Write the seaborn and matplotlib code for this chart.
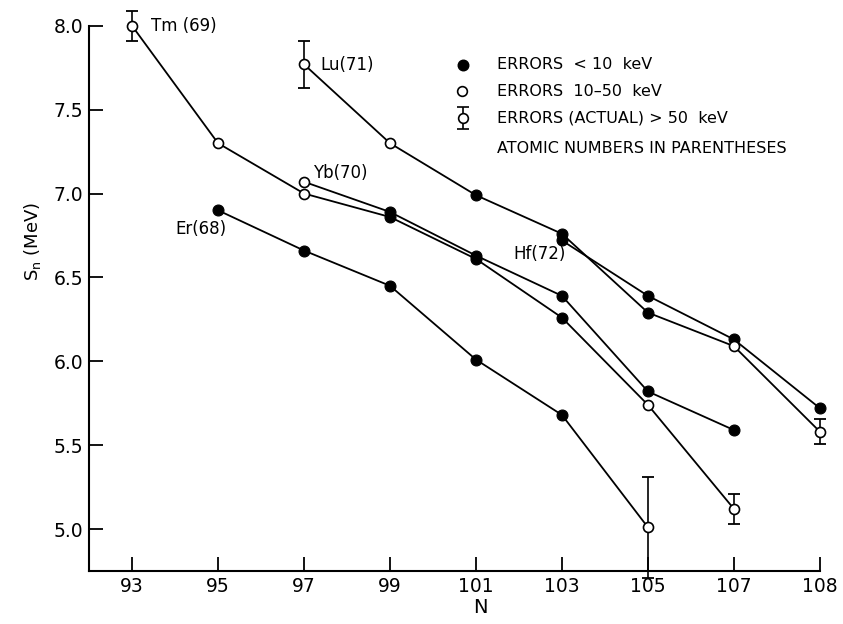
import matplotlib
matplotlib.use("Agg")
import matplotlib.pyplot as plt
import numpy as np
import pandas as pd
import seaborn as sns

# Neutron separation energies S_n (MeV) for odd-N isotopes of the rare earths
er_N = [95, 97, 99, 101, 103, 105]
er_S = [6.90, 6.66, 6.45, 6.01, 5.68, 5.01]
er_err = [0, 0, 0, 0, 0, 0.30]
er_open = [0, 0, 0, 0, 0, 1]

tm_N = [93, 95, 97, 99, 101, 103, 105, 107]
tm_S = [8.00, 7.30, 7.00, 6.86, 6.61, 6.26, 5.74, 5.12]
tm_err = [0.09, 0, 0, 0, 0, 0, 0, 0.09]
tm_open = [1, 1, 1, 0, 0, 0, 1, 1]

yb_N = [97, 99, 101, 103, 105, 107]
yb_S = [7.07, 6.89, 6.63, 6.39, 5.82, 5.59]
yb_err = [0, 0, 0, 0, 0, 0]
yb_open = [1, 0, 0, 0, 0, 0]

lu_N = [97, 99, 101, 103, 105, 107, 109]
lu_S = [7.77, 7.30, 6.99, 6.76, 6.29, 6.09, 5.58]
lu_err = [0.14, 0, 0, 0, 0, 0, 0.075]
lu_open = [1, 1, 0, 0, 0, 1, 1]

hf_N = [103, 105, 107, 109]
hf_S = [6.72, 6.39, 6.13, 5.72]
hf_err = [0, 0, 0, 0]
hf_open = [0, 0, 0, 0]

elements = ["Er(68)", "Tm (69)", "Yb(70)", "Lu(71)", "Hf(72)"]
x_ticks = [93, 95, 97, 99, 101, 103, 105, 107, 109]
x_tick_labels = ["93", "95", "97", "99", "101", "103", "105", "107", "108"]
y_ticks = [5.0, 5.5, 6.0, 6.5, 7.0, 7.5, 8.0]

legend_texts = ["ERRORS  < 10  keV", "ERRORS  10\u201350  keV",
                "ERRORS (ACTUAL) > 50  keV", "ATOMIC NUMBERS IN PARENTHESES"]

series = [
    (elements[0], er_N, er_S, er_err, er_open),
    (elements[1], tm_N, tm_S, tm_err, tm_open),
    (elements[2], yb_N, yb_S, yb_err, yb_open),
    (elements[3], lu_N, lu_S, lu_err, lu_open),
    (elements[4], hf_N, hf_S, hf_err, hf_open),
]
frames = []
for name, n, s, e, o in series:
    frames.append(pd.DataFrame({"element": name, "N": n, "S": s,
                                "err": e, "open": np.array(o, bool)}))
df = pd.concat(frames, ignore_index=True)

sns.set_style("ticks")
plt.rcParams["font.family"] = ["DejaVu Sans"]

fig = plt.figure(figsize=(8.43, 6.24), dpi=100)
ax = fig.add_axes([0.1056, 0.085, 0.867, 0.906])

sns.lineplot(data=df, x="N", y="S", units="element", estimator=None,
             sort=False, color="black", linewidth=1.3, legend=False,
             ax=ax, zorder=1)

bars = df[df["err"] > 0]
ax.errorbar(bars["N"], bars["S"], yerr=bars["err"], fmt="none",
            ecolor="black", elinewidth=1.2, capsize=4, capthick=1.3, zorder=2)

sns.scatterplot(data=df[~df["open"]], x="N", y="S", color="black",
                edgecolor="black", s=62, linewidth=0.8, ax=ax, zorder=3,
                legend=False)
sns.scatterplot(data=df[df["open"]], x="N", y="S", color="white",
                edgecolor="black", s=52, linewidth=1.2, ax=ax, zorder=3,
                legend=False)

# Element labels
lab_kw = dict(fontsize=12, color="black", va="center")
ax.text(93.45, 8.00, elements[1], ha="left", **lab_kw)
ax.text(97.37, 7.765, elements[3], ha="left", **lab_kw)
ax.text(97.21, 7.124, elements[2], ha="left", **lab_kw)
ax.text(94.6, 6.79, elements[0], ha="center", **lab_kw)
ax.text(101.87, 6.64, elements[4], ha="left", **lab_kw)

# Key for the marker styles
ax.plot([100.70], [7.767], "o", ms=7.6, mfc="black", mec="black", zorder=3)
ax.plot([100.68], [7.61], "o", ms=7.0, mfc="white", mec="black", mew=1.2,
        zorder=3)
ax.errorbar([100.70], [7.45], yerr=[0.065], fmt="o", ms=7.0, mfc="white",
            mec="black", mew=1.2, ecolor="black", elinewidth=1.2, capsize=4,
            capthick=1.3, zorder=3)
key_kw = dict(fontsize=11.5, color="black", ha="left", va="center")
for txt, yv in zip(legend_texts, [7.767, 7.61, 7.45, 7.267]):
    ax.text(101.5, yv, txt, **key_kw)

# Let markers and bars at the axis ends draw in full
for artist in ax.collections + ax.lines:
    artist.set_clip_on(False)

ax.set_xlim(92, 109)
ax.set_ylim(4.75, 8.12)
ax.set_xticks(x_ticks)
ax.set_xticklabels(x_tick_labels)
ax.set_yticks(y_ticks)
ax.set_yticklabels([f"{v:.1f}" for v in y_ticks])
ax.tick_params(direction="in", length=10, width=1.3, labelsize=13.5,
               colors="black", pad=4)

for side in ("top", "right"):
    ax.spines[side].set_visible(False)
for side in ("left", "bottom"):
    ax.spines[side].set_color("black")
    ax.spines[side].set_linewidth(1.5)
ax.spines["left"].set_bounds(4.75, 8.0)
ax.spines["bottom"].set_bounds(92, 109)

ax.set_xlabel("N", fontsize=14, color="black")
ax.xaxis.set_label_coords(0.535, -0.048)
ax.set_ylabel(r"S$_{\mathregular{n}}$ (MeV)", fontsize=13, color="black",
              va="center")
ax.yaxis.set_label_coords(-0.077, 0.583)

fig.savefig("out.png", dpi=100, facecolor="white")
